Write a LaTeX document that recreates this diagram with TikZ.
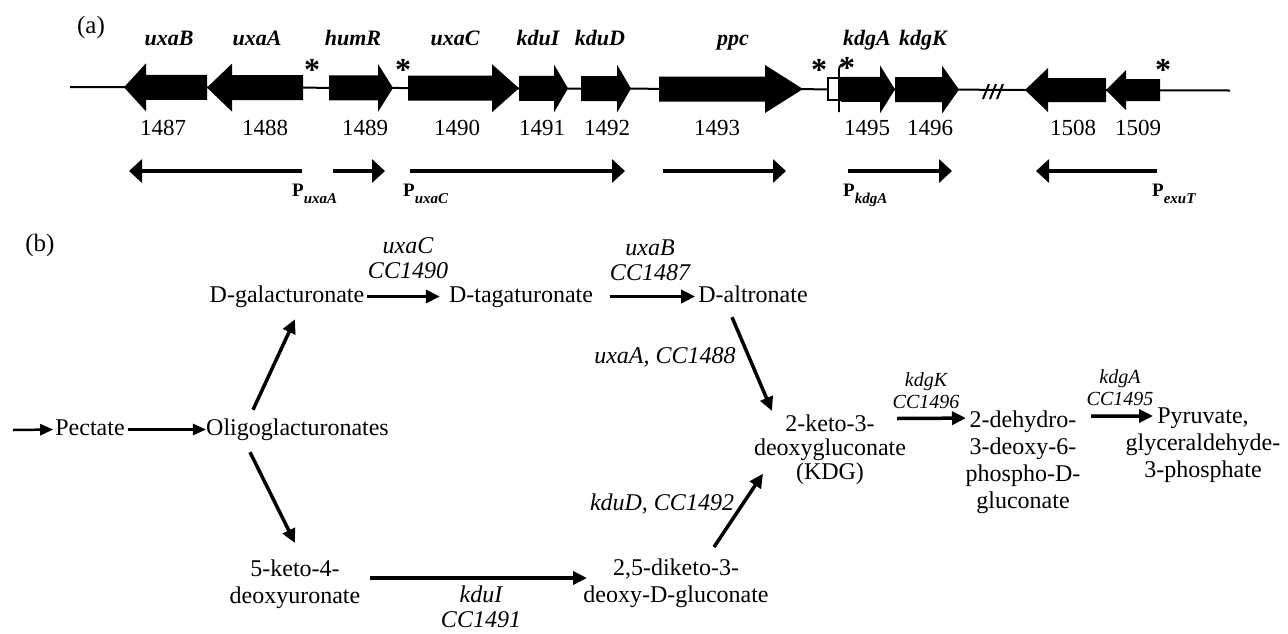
\documentclass[tikz,border=0pt]{standalone}
\usepackage{fontspec}
\setmainfont{Liberation Serif}
\usetikzlibrary{arrows.meta}
% gene arrows: right-pointing {x1}{headbase}{tip}{y}{headhalf}{bodyhalf}
\newcommand\geneRt[6]{\fill (#1,#4-#6) -- (#2,#4-#6) -- (#2,#4-#5) -- (#3,#4) -- (#2,#4+#5) -- (#2,#4+#6) -- (#1,#4+#6) -- cycle;}
% left-pointing {tip}{headbase}{x2}{y}{headhalf}{bodyhalf}
\newcommand\geneLt[6]{\fill (#3,#4-#6) -- (#2,#4-#6) -- (#2,#4-#5) -- (#1,#4) -- (#2,#4+#5) -- (#2,#4+#6) -- (#3,#4+#6) -- cycle;}
\newcommand\promo[1]{\textbf{P}\raisebox{-7pt}{\fontsize{15}{15}\selectfont\bfseries\itshape #1}}
\begin{document}
\begin{tikzpicture}[x=1pt,y=-1pt,
  met/.style={inner sep=0pt, font=\fontsize{24}{27}\selectfont, text height=16pt, text depth=5pt, anchor=base},
  metm/.style={inner sep=0pt, font=\fontsize{24}{27}\selectfont, align=center, anchor=north},
  lab/.style={inner sep=0pt, font=\itshape\fontsize{24}{25}\selectfont, align=center},
  labs/.style={inner sep=0pt, font=\itshape\fontsize{20}{22}\selectfont, align=center},
  gname/.style={inner sep=0pt, anchor=base, font=\bfseries\itshape\fontsize{22}{24}\selectfont},
  gnum/.style={inner sep=0pt, anchor=base, font=\fontsize{23}{24}\selectfont},
  astk/.style={inner sep=0pt, anchor=base, font=\bfseries\fontsize{32}{32}\selectfont},
  prom/.style={inner sep=0pt, anchor=base west, font=\fontsize{19}{20}\selectfont},
  panel/.style={inner sep=0pt, anchor=base, font=\fontsize{25}{26}\selectfont},
  arr/.style={line width=3.5pt, -{Triangle[length=14pt,width=13pt]}},
  arrthin/.style={line width=2.5pt, -{Triangle[length=13pt,width=11pt]}},
  tr/.style={line width=4pt, -{Triangle[length=13pt,width=23pt]}},
]
\useasboundingbox (0,0) rectangle (1288,633);

% ---------------- (a) gene map ----------------
\node[panel] (pa) at (91,33) {(a)};
\draw[line width=2pt] (70,87) -- (1230,90.5);

\geneLt{124}{146}{207}{87.3}{24}{12.5}
\geneLt{207}{232}{303}{87.6}{24}{12.5}
\geneRt{329}{378}{393}{87.9}{24}{12.5}
\geneRt{408}{492}{519}{88.2}{24}{12.5}
\geneRt{519}{554}{568}{88.4}{24}{12.5}
\geneRt{581}{617}{631}{88.6}{24}{12.5}
\geneRt{659}{765}{803}{89.0}{24}{12.5}
\geneRt{841}{880}{895}{89.4}{24}{12.5}
\geneRt{895}{942}{959}{89.6}{24}{12.5}
\geneLt{1025}{1048}{1106}{90.0}{22}{12}
\geneLt{1106}{1126}{1160}{90.2}{20}{11}

% small white box and promoter hook before kdgA
\draw[line width=1.3pt, fill=white] (828,78) rectangle (841,100);
\draw[line width=1.8pt] (839,112) -- (839,70) .. controls (839,66) and (841,64) .. (845,64);

% break marks
\draw[line width=2pt] (983,99) -- (989,84);
\draw[line width=2pt] (990,99) -- (996,84);
\draw[line width=2pt] (997,99) -- (1003,84);

% asterisks
\node[astk] (s1) at (312,80) {*};
\node[astk] (s2) at (403,80) {*};
\node[astk] (s3) at (819,80) {*};
\node[astk] (s4) at (847,78) {*};
\node[astk] (s5) at (1163,80) {*};

% gene names
\node[gname] (g1) at (169,45) {uxaB};
\node[gname] (g2) at (257,45) {uxaA};
\node[gname] (g3) at (353,45) {humR};
\node[gname] (g4) at (455,45) {uxaC};
\node[gname] (g5) at (538,45) {kduI};
\node[gname] (g6) at (600,45) {kduD};
\node[gname] (g7) at (733,45) {ppc};
\node[gname] (g8) at (867,45) {kdgA};
\node[gname] (g9) at (923,45) {kdgK};

% gene numbers
\node[gnum] (n1487) at (163,135) {1487};
\node[gnum] (n1488) at (265,135) {1488};
\node[gnum] (n1489) at (365,135) {1489};
\node[gnum] (n1490) at (457,135) {1490};
\node[gnum] (n1491) at (542,135) {1491};
\node[gnum] (n1492) at (607,135) {1492};
\node[gnum] (n1493) at (717,135) {1493};
\node[gnum] (n1495) at (867,135.5) {1495};
\node[gnum] (n1496) at (930,135.5) {1496};
\node[gnum] (n1508) at (1073,135.5) {1508};
\node[gnum] (n1509) at (1138,135.5) {1509};

% transcripts
\coordinate (t1s) at (302,171); \coordinate (t1e) at (129,171);
\coordinate (t2s) at (333,171); \coordinate (t2e) at (385,171);
\coordinate (t3s) at (410,171); \coordinate (t3e) at (625,171);
\coordinate (t4s) at (663,171); \coordinate (t4e) at (786,171);
\coordinate (t5s) at (848,171); \coordinate (t5e) at (952,171);
\coordinate (t6s) at (1157,171); \coordinate (t6e) at (1036,171);
\draw[tr] (t1s) -- (t1e);
\draw[tr] (t2s) -- (t2e);
\draw[tr] (t3s) -- (t3e);
\draw[tr] (t4s) -- (t4e);
\draw[tr] (t5s) -- (t5e);
\draw[tr] (t6s) -- (t6e);

% promoter labels
\node[prom] (p1) at (292,196) {\promo{uxaA}};
\node[prom] (p2) at (403,196) {\promo{uxaC}};
\node[prom] (p3) at (843,196) {\promo{kdgA}};
\node[prom] (p4) at (1152,196) {\promo{exuT}};

% ---------------- (b) pathway ----------------
\node[panel] (pb) at (40,251) {(b)};

\node[met] (pect) at (90,435) {Pectate};
\node[met] (olig) at (297.5,435) {Oligoglacturonates};
\node[met] (dgal) at (287,302) {D-galacturonate};
\node[met] (dtag) at (521,302) {D-tagaturonate};
\node[met] (dalt) at (753,302) {D-altronate};
\node[metm, font=\fontsize{24}{24}\selectfont] (kdg) at (830,414.5) {2-keto-3-\\deoxygluconate\\(KDG)};
\node[metm] (dehy) at (1023,410.6) {2-dehydro-\\3-deoxy-6-\\phospho-D-\\gluconate};
\node[metm] (pyr) at (1203,408) {Pyruvate,\\glyceraldehyde-\\3-phosphate};
\node[metm] (keto) at (295,560) {5-keto-4-\\deoxyuronate};
\node[metm] (dik) at (676,559) {2,5-diketo-3-\\deoxy-D-gluconate};

% enzyme labels
\node[lab] (luxaC) at (408,258) {uxaC\\CC1490};
\node[lab] (luxaB) at (650,260) {uxaB\\CC1487};
\node[lab] (luxaA) at (665,357) {uxaA, CC1488};
\node[lab] (lkduD) at (662,504) {kduD, CC1492};
\node[lab] (lkduI) at (481,607) {kduI\\CC1491};
\node[labs] (lkdgK) at (926,391) {kdgK\\CC1496};
\node[labs] (lkdgA) at (1120,388) {kdgA\\CC1495};

% reactions
\coordinate (src) at (13,430);
\draw[arrthin, shorten >=2pt] (src) -- (pect.west);
\draw[arrthin, shorten <=3pt] (pect.east) -- (olig.west);
\draw[arr] ([xshift=-44.5pt,yshift=9pt]olig.north) -- ([xshift=8pt,yshift=-12pt]dgal.south);
\draw[arr] ([xshift=-47.5pt,yshift=-12pt]olig.south) -- ([yshift=17pt]keto.north);
\draw[arr, shorten <=3pt, shorten >=9pt] (dgal.east) -- (dtag.west);
\draw[arr, shorten <=17pt, shorten >=3pt] (dtag.east) -- (dalt.west);
\draw[arr] ([xshift=-21pt,yshift=-10pt]dalt.south) -- ([xshift=-58pt,yshift=3.5pt]kdg.north);
\draw[arr] ([xshift=75pt,yshift=-18pt]keto.north) -- ([xshift=-89pt,yshift=-19pt]dik.north);
\draw[arr] ([xshift=38pt,yshift=12pt]dik.north) -- ([xshift=-67pt,yshift=11pt]kdg.south);
\draw[arr] ([xshift=67pt,yshift=-4pt]kdg.north) -- ([xshift=-57pt,yshift=-7.5pt]dehy.north);
\draw[arr] ([xshift=68pt,yshift=-5.5pt]dehy.north) -- ([xshift=-50pt,yshift=-8pt]pyr.north);
\end{tikzpicture}
\end{document}
